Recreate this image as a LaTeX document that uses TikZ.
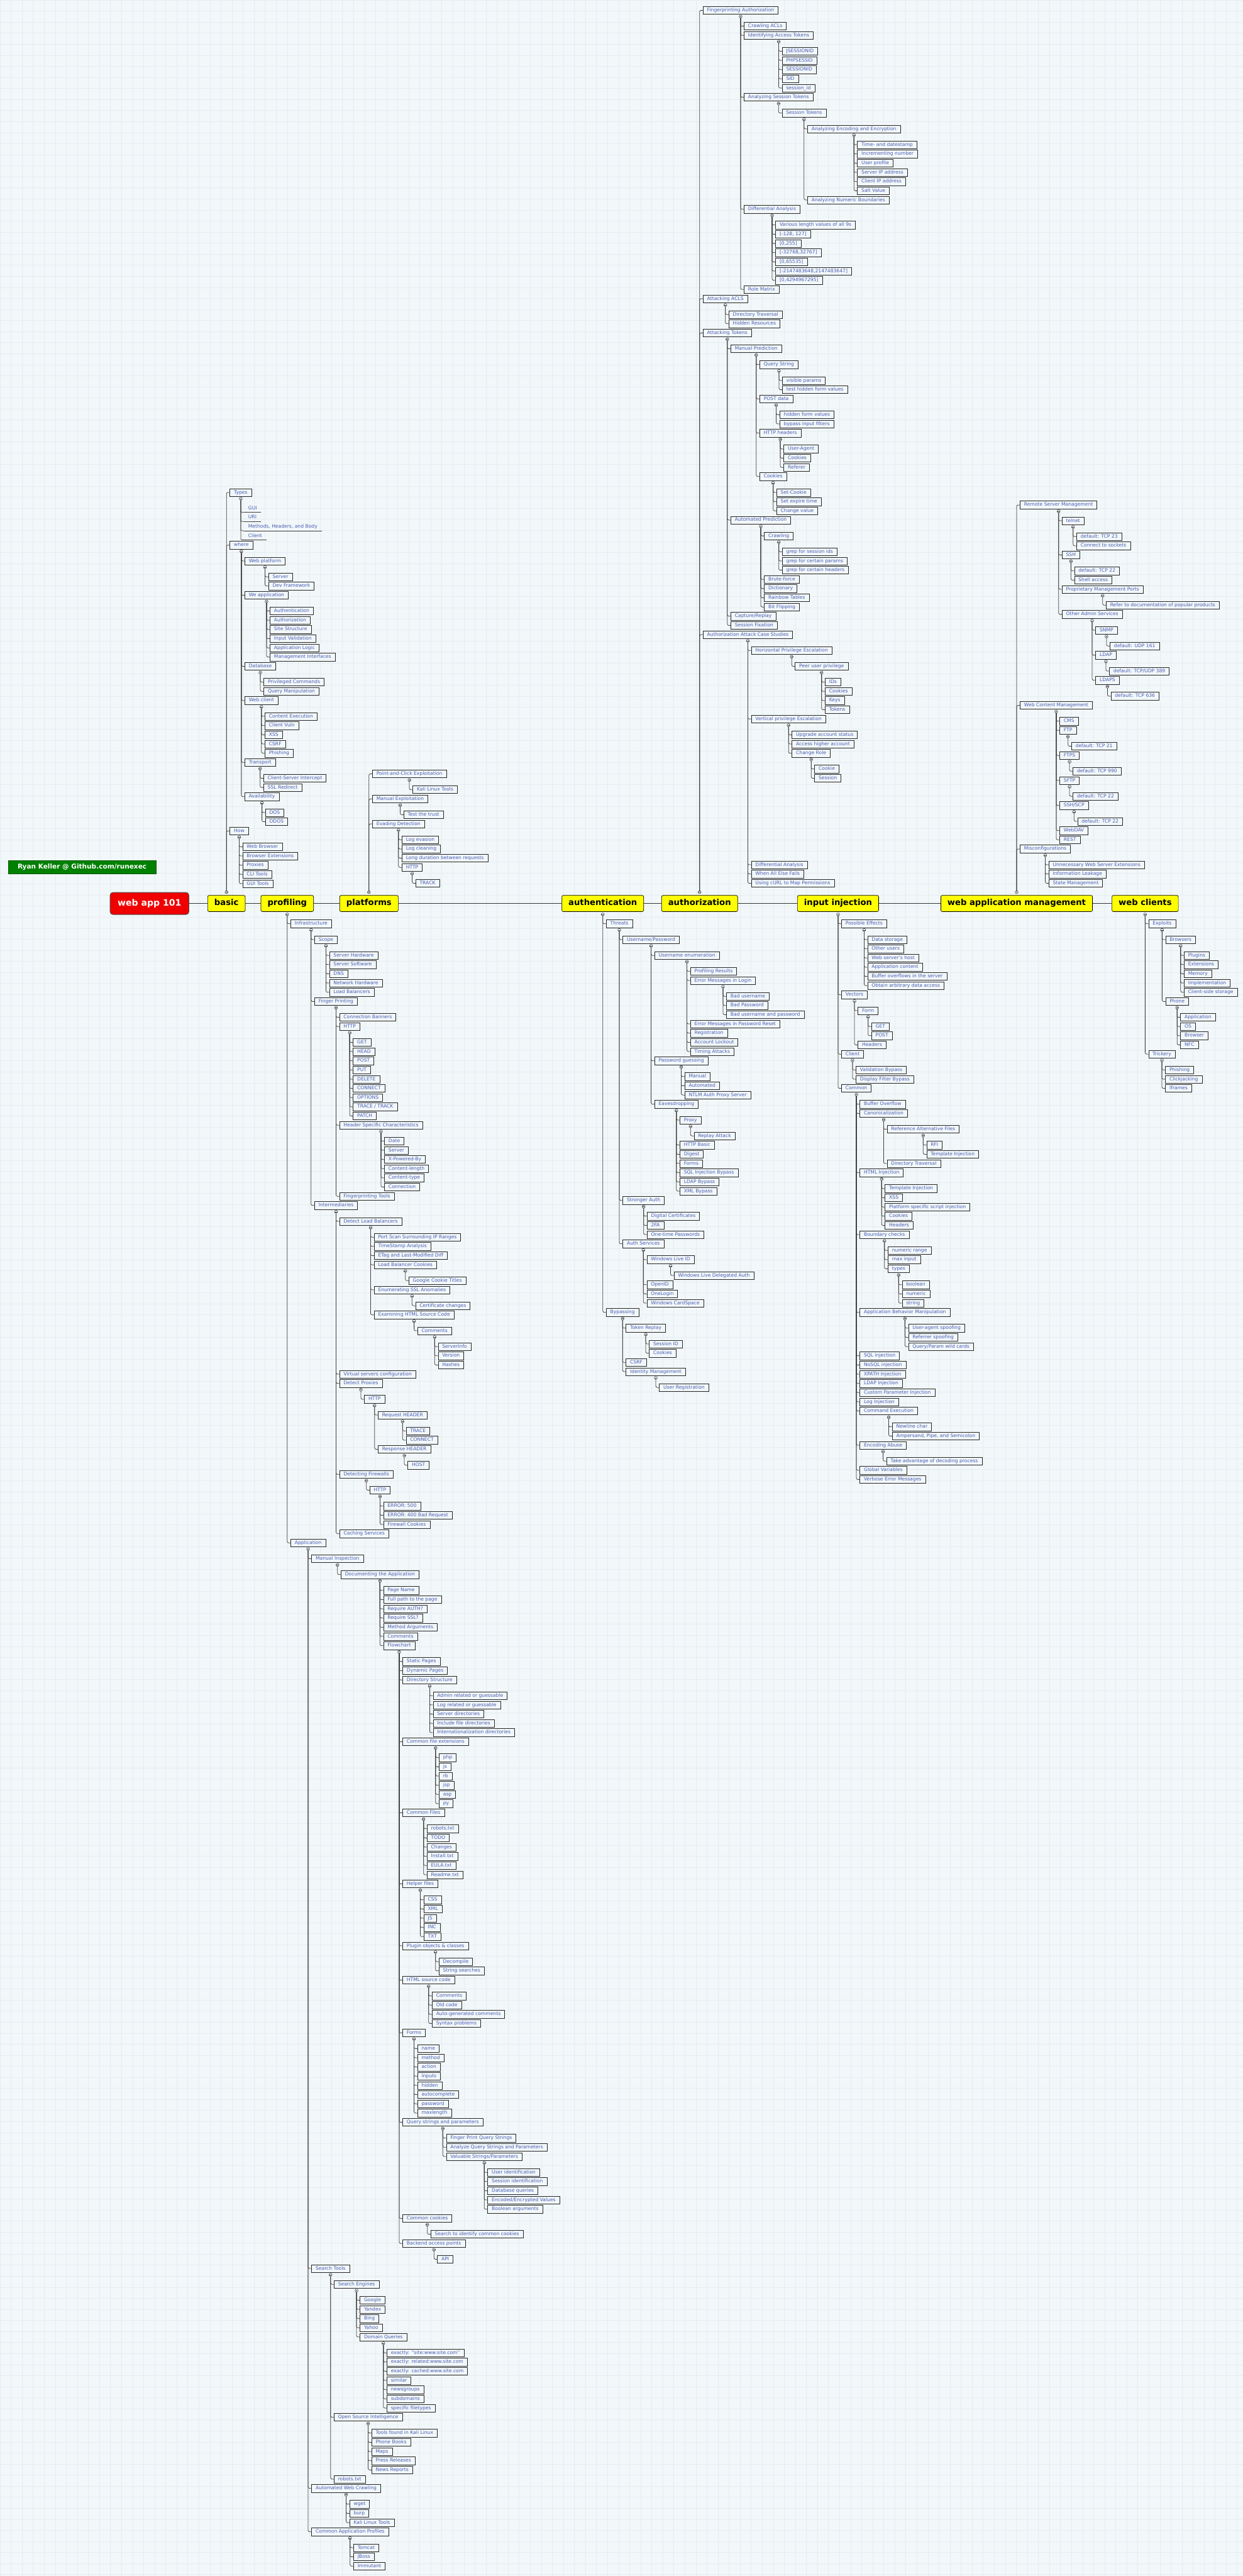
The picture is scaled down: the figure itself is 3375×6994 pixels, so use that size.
\documentclass[tikz,border=0pt]{standalone}
\usepackage{fontspec}
\setmainfont{DejaVu Sans}
\usetikzlibrary{calc}
\pgfdeclarelayer{fg}
\pgfsetlayers{main,fg}
\definecolor{bgc}{RGB}{242,247,249}
\definecolor{gridc}{RGB}{229,237,241}
\definecolor{txtc}{RGB}{72,92,178}
\definecolor{yel}{RGB}{255,255,0}
\definecolor{redc}{RGB}{240,0,0}
\definecolor{grn}{RGB}{0,128,0}

\newcount\mmcnt
\newcount\mmprev
\newcount\mmY

\tikzset{
  mmleaf/.style={draw=black!85, line width=0.5pt, fill=bgc, text=txtc,
    font=\fontsize{6.5}{7.5}\selectfont, inner xsep=5.5pt, inner ysep=0pt,
    minimum height=10.5pt, text height=4.8pt, text depth=1.3pt, anchor=north west},
  mmuleaf/.style={mmleaf, draw=none, fill=none},
  mmedge/.style={draw=black!75, line width=0.65pt, rounded corners=2pt},
  hubcirc/.style={circle, draw=black!80, fill=white, line width=0.5pt, inner sep=0pt,
    minimum size=4pt,
    path picture={\draw[line width=0.35pt] ([xshift=-1.2pt]path picture bounding box.center) -- ([xshift=1.2pt]path picture bounding box.center);}},
  mainnode/.style={draw=black, line width=0.6pt, fill=yel, rounded corners=2pt,
    font=\fontsize{11.25}{13}\selectfont\bfseries, inner xsep=9pt, inner ysep=0pt,
    minimum height=22pt, text height=8pt, text depth=2.3pt},
  rootnode/.style={draw=black!70, line width=0.8pt, fill=redc, rounded corners=4pt,
    text=white, font=\fontsize{12}{14}\selectfont\bfseries, minimum width=107pt,
    minimum height=30pt, inner sep=0pt},
  creditnode/.style={draw=grn!70!black, line width=0.5pt, fill=grn, text=white,
    font=\fontsize{9}{11}\selectfont\bfseries, minimum width=201pt, minimum height=18pt, inner sep=0pt},
  spine/.style={draw=black!80, line width=0.6pt},
}

\newcommand\mmstart[4]{%
  \global\mmY=#2\relax
  \global\mmprev=0\relax
  \coordinate (#1-hub) at ([yshift=#4]#1.#3);
  \expandafter\xdef\csname mmhub0\endcsname{#1-hub}%
}
\newcommand\mmskip[1]{\global\advance\mmY by #1\relax}
\newcommand\mmgen[4]{%
  \ifnum#3>\mmprev
    \global\advance\mmY by 43\relax
    \edef\mmph{\csname mmhub\the\numexpr#3-1\relax\endcsname}%
    \begin{pgfonlayer}{fg}\node[hubcirc] at (\mmph) {};\end{pgfonlayer}%
  \else
    \global\advance\mmY by 25\relax
  \fi
  \global\mmprev=#3\relax
  \global\advance\mmcnt by 1\relax
  \edef\mmph{\csname mmhub\the\numexpr#3-1\relax\endcsname}%
  \edef\mmname{n\the\mmcnt}%
  \pgfmathsetmacro\mmyy{-0.5*\the\mmY}%
  \path let \p1=(\mmph) in node[#1] (\mmname) at (\x1+4.5pt,\mmyy pt) {#4};
  \coordinate (\mmname-hub) at ([yshift=-3pt]\mmname.south);
  \expandafter\xdef\csname mmhub#3\endcsname{\mmname-hub}%
  \draw[mmedge] (\mmph) |- (\mmname.#2);
}
\newcommand\mmi[2]{\mmgen{mmleaf}{west}{#1}{#2}}
\newcommand\mmu[2]{\mmgen{mmuleaf}{south west}{#1}{#2}\draw[mmedge] (n\the\mmcnt.south west) -- (n\the\mmcnt.south east);}

\begin{document}
\begin{tikzpicture}[x=0.5pt,y=-0.5pt]
\useasboundingbox (0,0) rectangle (3375,6994);
\fill[bgc] (0,0) rectangle (3375,6994);
\draw[gridc, line width=0.5pt, step=15pt] (0,6994) grid (3375,0);

% main nodes
\node[rootnode] (root) at (406,2453) {web app 101};
\node[mainnode] (basic) at (615,2453) {basic};
\node[mainnode] (profiling) at (780,2453) {profiling};
\node[mainnode] (platforms) at (1002,2453) {platforms};
\node[mainnode] (authentication) at (1637,2453) {authentication};
\node[mainnode] (authorization) at (1900,2453) {authorization};
\node[mainnode] (injection) at (2276,2453) {input injection};
\node[mainnode] (wam) at (2761,2453) {web application management};
\node[mainnode] (clients) at (3110,2453) {web clients};
\node[creditnode] (credit) at (223,2354) {Ryan Keller @ Github.com/runexec};

\draw[spine] (root.east) -- (basic.west);
\draw[spine] (basic.east) -- (profiling.west);
\draw[spine] (profiling.east) -- (platforms.west);
\draw[spine] (platforms.east) -- (authentication.west);
\draw[spine] (authentication.east) -- (authorization.west);
\draw[spine] (authorization.east) -- (injection.west);
\draw[spine] (injection.east) -- (wam.west);
\draw[spine] (wam.east) -- (clients.west);

% ---------------- basic (up)
\mmstart{basic}{1283}{north}{4pt}
\mmi{1}{Types}
\mmu{2}{GUI}
\mmu{2}{URI}
\mmu{2}{Methods, Headers, and Body}
\mmu{2}{Client}
\mmi{1}{where}
\mmi{2}{Web platform}
\mmi{3}{Server}
\mmi{3}{Dev Framework}
\mmi{2}{We application}
\mmi{3}{Authentication}
\mmi{3}{Authorization}
\mmi{3}{Site Structure}
\mmi{3}{Input Validation}
\mmi{3}{Application Logic}
\mmi{3}{Management Interfaces}
\mmi{2}{Database}
\mmi{3}{Privileged Commands}
\mmi{3}{Query Manipulation}
\mmi{2}{Web client}
\mmi{3}{Content Execution}
\mmi{3}{Client Vuln}
\mmi{3}{XSS}
\mmi{3}{CSRF}
\mmi{3}{Phishing}
\mmi{2}{Transport}
\mmi{3}{Client-Server Intercept}
\mmi{3}{SSL Redirect}
\mmi{2}{Availability}
\mmi{3}{DOS}
\mmi{3}{DDOS}
\mmi{1}{How}
\mmi{2}{Web Browser}
\mmi{2}{Browser Extensions}
\mmi{2}{Proxies}
\mmi{2}{CLI Tools}
\mmi{2}{GUI Tools}

% ---------------- platforms (up)
\mmstart{platforms}{2047}{north}{4pt}
\mmi{1}{Point-and-Click Exploitation}
\mmi{2}{Kali Linux Tools}
\mmi{1}{Manual Exploitation}
\mmi{2}{Test the trust}
\mmi{1}{Evading Detection}
\mmi{2}{Log evasion}
\mmi{2}{Log cleaning}
\mmi{2}{Long duration between requests}
\mmi{2}{HTTP}
\mmi{3}{TRACK}

% ---------------- authorization (up)
\mmstart{authorization}{-26}{north}{4pt}
\mmi{1}{Fingerprinting Authorization}
\mmi{2}{Crawling ACLs}
\mmi{2}{Identifying Access Tokens}
\mmi{3}{JSESSIONID}
\mmi{3}{PHPSESSID}
\mmi{3}{SESSIONID}
\mmi{3}{SID}
\mmi{3}{session\_id}
\mmi{2}{Analyzing Session Tokens}
\mmi{3}{Session Tokens}
\mmi{4}{Analyzing Encoding and Encryption}
\mmi{5}{Time- and datestamp}
\mmi{5}{Incrementing number}
\mmi{5}{User profile}
\mmi{5}{Server IP address}
\mmi{5}{Client IP address}
\mmi{5}{Salt Value}
\mmi{4}{Analyzing Numeric Boundaries}
\mmi{2}{Differential Analysis}
\mmi{3}{Various length values of all 9s}
\mmi{3}{[-128, 127]}
\mmi{3}{[0,255]}
\mmi{3}{[-32768,32767]}
\mmi{3}{[0,65535]}
\mmi{3}{[-2147483648,2147483647]}
\mmi{3}{[0,4294967295]}
\mmi{2}{Role Matrix}
\mmi{1}{Attacking ACLS}
\mmi{2}{Directory Traversal}
\mmi{2}{Hidden Resources}
\mmi{1}{Attacking Tokens}
\mmi{2}{Manual Prediction}
\mmi{3}{Query String}
\mmi{4}{visible params}
\mmi{4}{test hidden form values}
\mmi{3}{POST data}
\mmi{4}{hidden form values}
\mmi{4}{bypass input filters}
\mmi{3}{HTTP headers}
\mmi{4}{User-Agent}
\mmi{4}{Cookies}
\mmi{4}{Referer}
\mmi{3}{Cookies}
\mmi{4}{Set-Cookie}
\mmi{4}{Set expire time}
\mmi{4}{Change value}
\mmi{2}{Automated Prediction}
\mmi{3}{Crawling}
\mmi{4}{grep for session ids}
\mmi{4}{grep for certain params}
\mmi{4}{grep for certain headers}
\mmi{3}{Brute-force}
\mmi{3}{Dictionary}
\mmi{3}{Rainbow Tables}
\mmi{3}{Bit Flipping}
\mmi{2}{Capture/Replay}
\mmi{2}{Session Fixation}
\mmi{1}{Authorization Attack Case Studies}
\mmi{2}{Horizontal Privilege Escalation}
\mmi{3}{Peer user privilege}
\mmi{4}{IDs}
\mmi{4}{Cookies}
\mmi{4}{Keys}
\mmi{4}{Tokens}
\mmi{2}{Vertical privilege Escalation}
\mmi{3}{Upgrade account status}
\mmi{3}{Access higher account}
\mmi{3}{Change Role}
\mmi{4}{Cookie}
\mmi{4}{Session}
\mmskip{210}
\mmi{2}{Differential Analysis}
\mmi{2}{When All Else Fails}
\mmi{2}{Using cURL to Map Permissions}

% ---------------- web application management (up)
\mmstart{wam}{1317}{north}{4pt}
\mmi{1}{Remote Server Management}
\mmi{2}{telnet}
\mmi{3}{default: TCP 23}
\mmi{3}{Connect to sockets}
\mmi{2}{SSH}
\mmi{3}{default: TCP 22}
\mmi{3}{Shell access}
\mmi{2}{Proprietary Management Ports}
\mmi{3}{Refer to documentation of popular products}
\mmi{2}{Other Admin Services}
\mmi{3}{SNMP}
\mmi{4}{default: UDP 161}
\mmi{3}{LDAP}
\mmi{4}{default: TCP/UDP 389}
\mmi{3}{LDAPS}
\mmi{4}{default: TCP 636}
\mmi{1}{Web Content Management}
\mmi{2}{CMS}
\mmi{2}{FTP}
\mmi{3}{default: TCP 21}
\mmi{2}{FTPS}
\mmi{3}{default: TCP 990}
\mmi{2}{SFTP}
\mmi{3}{default: TCP 22}
\mmi{2}{SSH/SCP}
\mmi{3}{default: TCP 22}
\mmi{2}{WebDAV}
\mmi{2}{REST}
\mmi{1}{Misconfigurations}
\mmi{2}{Unnecessary Web Server Extensions}
\mmi{2}{Information Leakage}
\mmi{2}{State Management}

% ---------------- web clients (down)
\mmstart{clients}{2454}{south}{-3.5pt}
\mmi{1}{Exploits}
\mmi{2}{Browsers}
\mmi{3}{Plugins}
\mmi{3}{Extensions}
\mmi{3}{Memory}
\mmi{3}{Implementation}
\mmi{3}{Client-side storage}
\mmi{2}{Phone}
\mmi{3}{Application}
\mmi{3}{OS}
\mmi{3}{Browser}
\mmi{3}{NFC}
\mmi{1}{Trickery}
\mmi{2}{Phishing}
\mmi{2}{Clickjacking}
\mmi{2}{Iframes}

% ---------------- input injection (down)
\mmstart{injection}{2454}{south}{-3.5pt}
\mmi{1}{Possible Effects}
\mmi{2}{Data storage}
\mmi{2}{Other users}
\mmi{2}{Web server's host}
\mmi{2}{Application content}
\mmi{2}{Buffer overflows in the server}
\mmi{2}{Obtain arbitrary data access}
\mmi{1}{Vectors}
\mmi{2}{Form}
\mmi{3}{GET}
\mmi{3}{POST}
\mmi{2}{Headers}
\mmi{1}{Client}
\mmi{2}{Validation Bypass}
\mmi{2}{Display Filter Bypass}
\mmi{1}{Common}
\mmi{2}{Buffer Overflow}
\mmi{2}{Canonicalization}
\mmi{3}{Reference Alternative Files}
\mmi{4}{RFI}
\mmi{4}{Template Injection}
\mmi{3}{Directory Traversal}
\mmi{2}{HTML Injection}
\mmi{3}{Template Injection}
\mmi{3}{XSS}
\mmi{3}{Platform specific script injection}
\mmi{3}{Cookies}
\mmi{3}{Headers}
\mmi{2}{Boundary checks}
\mmi{3}{numeric range}
\mmi{3}{max input}
\mmi{3}{types}
\mmi{4}{boolean}
\mmi{4}{numeric}
\mmi{4}{string}
\mmi{2}{Application Behavior Manipulation}
\mmi{3}{User-agent spoofing}
\mmi{3}{Referrer spoofing}
\mmi{3}{Query/Param wild cards}
\mmi{2}{SQL injection}
\mmi{2}{NoSQL injection}
\mmi{2}{XPATH Injection}
\mmi{2}{LDAP Injection}
\mmi{2}{Custom Parameter Injection}
\mmi{2}{Log Injection}
\mmi{2}{Command Execution}
\mmi{3}{Newline char}
\mmi{3}{Ampersand, Pipe, and Semicolon}
\mmi{2}{Encoding Abuse}
\mmi{3}{Take advantage of decoding process}
\mmi{2}{Global Variables}
\mmi{2}{Verbose Error Messages}

% ---------------- authentication (down)
\mmstart{authentication}{2454}{south}{-3.5pt}
\mmi{1}{Threats}
\mmi{2}{Username/Password}
\mmi{3}{Username enumeration}
\mmi{4}{Profiling Results}
\mmi{4}{Error Messages in Login}
\mmi{5}{Bad username}
\mmi{5}{Bad Password}
\mmi{5}{Bad username and password}
\mmi{4}{Error Messages in Password Reset}
\mmi{4}{Registration}
\mmi{4}{Account Lockout}
\mmi{4}{Timing Attacks}
\mmi{3}{Password guessing}
\mmi{4}{Manual}
\mmi{4}{Automated}
\mmi{4}{NTLM Auth Proxy Server}
\mmi{3}{Eavesdropping}
\mmi{4}{Proxy}
\mmi{5}{Replay Attack}
\mmi{4}{HTTP Basic}
\mmi{4}{Digest}
\mmi{4}{Forms}
\mmi{4}{SQL Injection Bypass}
\mmi{4}{LDAP Bypass}
\mmi{4}{XML Bypass}
\mmi{2}{Stronger Auth}
\mmi{3}{Digital Certificates}
\mmi{3}{2FA}
\mmi{3}{One-time Passwords}
\mmi{2}{Auth Services}
\mmi{3}{Windows Live ID}
\mmi{4}{Windows Live Delegated Auth}
\mmi{3}{OpenID}
\mmi{3}{OneLogin}
\mmi{3}{Windows CardSpace}
\mmi{1}{Bypassing}
\mmi{2}{Token Replay}
\mmi{3}{Session ID}
\mmi{3}{Cookies}
\mmi{2}{CSRF}
\mmi{2}{Identity Management}
\mmi{3}{User Registration}

% ---------------- profiling (down)
\mmstart{profiling}{2454}{south}{-3.5pt}
\mmi{1}{Infrastructure}
\mmi{2}{Scope}
\mmi{3}{Server Hardware}
\mmi{3}{Server Software}
\mmi{3}{DNS}
\mmi{3}{Network Hardware}
\mmi{3}{Load Balancers}
\mmi{2}{Finger Printing}
\mmi{3}{Connection Banners}
\mmi{3}{HTTP}
\mmi{4}{GET}
\mmi{4}{HEAD}
\mmi{4}{POST}
\mmi{4}{PUT}
\mmi{4}{DELETE}
\mmi{4}{CONNECT}
\mmi{4}{OPTIONS}
\mmi{4}{TRACE / TRACK}
\mmi{4}{PATCH}
\mmi{3}{Header Specific Characteristics}
\mmi{4}{Date}
\mmi{4}{Server}
\mmi{4}{X-Powered-By}
\mmi{4}{Content-length}
\mmi{4}{Content-type}
\mmi{4}{Connection}
\mmi{3}{Fingerprinting Tools}
\mmi{2}{Intermediaries}
\mmi{3}{Detect Load Balancers}
\mmi{4}{Port Scan Surrounding IP Ranges}
\mmi{4}{TimeStamp Analysis}
\mmi{4}{ETag and Last-Modified Diff}
\mmi{4}{Load Balancer Cookies}
\mmi{5}{Google Cookie Titles}
\mmi{4}{Enumerating SSL Anomalies}
\mmi{5}{Certificate changes}
\mmi{4}{Examining HTML Source Code}
\mmi{5}{Comments}
\mmi{6}{ServerInfo}
\mmi{6}{Version}
\mmi{6}{Hashes}
\mmi{3}{Virtual servers configuration}
\mmi{3}{Detect Proxies}
\mmi{4}{HTTP}
\mmi{5}{Request HEADER}
\mmi{6}{TRACE}
\mmi{6}{CONNECT}
\mmi{5}{Response HEADER}
\mmi{6}{HOST}
\mmi{3}{Detecting Firewalls}
\mmi{4}{HTTP}
\mmi{5}{ERROR: 500}
\mmi{5}{ERROR: 400 Bad Request}
\mmi{5}{Firewall Cookies}
\mmi{3}{Caching Services}
\mmi{1}{Application}
\mmi{2}{Manual Inspection}
\mmi{3}{Documenting the Application}
\mmi{4}{Page Name}
\mmi{4}{Full path to the page}
\mmi{4}{Require AUTH?}
\mmi{4}{Require SSL?}
\mmi{4}{Method Arguments}
\mmi{4}{Comments}
\mmi{4}{Flowchart}
\mmi{5}{Static Pages}
\mmi{5}{Dynamic Pages}
\mmi{5}{Directory Structure}
\mmi{6}{Admin related or guessable}
\mmi{6}{Log related or guessable}
\mmi{6}{Server directories}
\mmi{6}{Include file directories}
\mmi{6}{Internationalization directories}
\mmi{5}{Common file extensions}
\mmi{6}{php}
\mmi{6}{js}
\mmi{6}{rb}
\mmi{6}{jsp}
\mmi{6}{asp}
\mmi{6}{py}
\mmi{5}{Common Files}
\mmi{6}{robots.txt}
\mmi{6}{TODO}
\mmi{6}{Changes}
\mmi{6}{Install.txt}
\mmi{6}{EULA.txt}
\mmi{6}{Readme.txt}
\mmi{5}{Helper files}
\mmi{6}{CSS}
\mmi{6}{XML}
\mmi{6}{JS}
\mmi{6}{INC}
\mmi{6}{TXT}
\mmi{5}{Plugin objects \& classes}
\mmi{6}{Decompile}
\mmi{6}{String searches}
\mmi{5}{HTML source code}
\mmi{6}{Comments}
\mmi{6}{Old code}
\mmi{6}{Auto-generated comments}
\mmi{6}{Syntax problems}
\mmi{5}{Forms}
\mmi{6}{name}
\mmi{6}{method}
\mmi{6}{action}
\mmi{6}{inputs}
\mmi{6}{hidden}
\mmi{6}{autocomplete}
\mmi{6}{password}
\mmi{6}{maxlength}
\mmi{5}{Query strings and parameters}
\mmi{6}{Finger Print Query Strings}
\mmi{6}{Analyze Query Strings and Parameters}
\mmi{6}{Valuable Strings/Parameters}
\mmi{7}{User identification}
\mmi{7}{Session identification}
\mmi{7}{Database queries}
\mmi{7}{Encoded/Encrypted Values}
\mmi{7}{Boolean arguments}
\mmi{5}{Common cookies}
\mmi{6}{Search to identify common cookies}
\mmi{5}{Backend access points}
\mmi{6}{API}
\mmi{2}{Search Tools}
\mmi{3}{Search Engines}
\mmi{4}{Google}
\mmi{4}{Yandex}
\mmi{4}{Bing}
\mmi{4}{Yahoo}
\mmi{4}{Domain Queries}
\mmi{5}{exactly: "site:www.site.com"}
\mmi{5}{exactly: related:www.site.com}
\mmi{5}{exactly: cached:www.site.com}
\mmi{5}{similar}
\mmi{5}{newsgroups}
\mmi{5}{subdomains}
\mmi{5}{specific filetypes}
\mmi{3}{Open Source Intelligence}
\mmi{4}{Tools found in Kali Linux}
\mmi{4}{Phone Books}
\mmi{4}{Maps}
\mmi{4}{Press Releases}
\mmi{4}{News Reports}
\mmi{3}{robots.txt}
\mmi{2}{Automated Web Crawling}
\mmi{3}{wget}
\mmi{3}{burp}
\mmi{3}{Kali Linux Tools}
\mmi{2}{Common Application Profiles}
\mmi{3}{Tomcat}
\mmi{3}{JBoss}
\mmi{3}{Immutant}
\end{tikzpicture}
\end{document}
